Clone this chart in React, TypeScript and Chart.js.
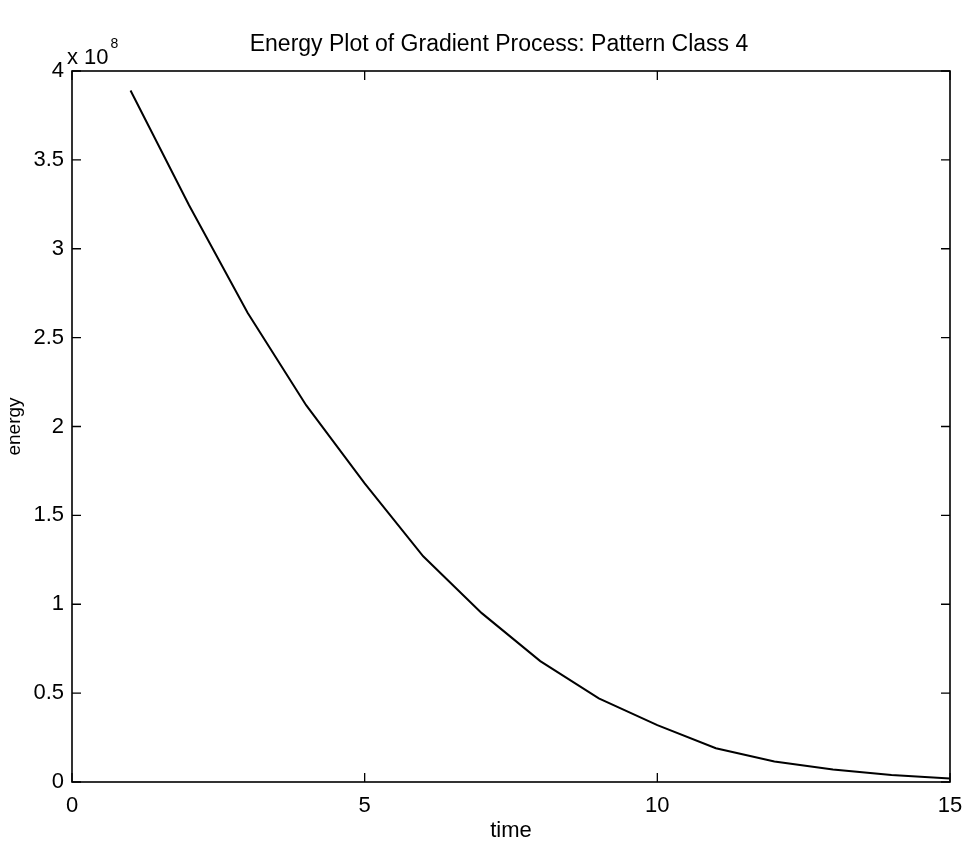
import React, { useEffect, useRef } from "react";
import { Chart, registerables } from "chart.js";

Chart.register(...registerables);

const TITLE = "Energy Plot of Gradient Process: Pattern Class 4";
const X_LABEL = "time";
const Y_LABEL = "energy";
const EXPONENT = 8;
const SCALE = 1e8;

const times = [1, 2, 3, 4, 5, 6, 7, 8, 9, 10, 11, 12, 13, 14, 15];
const energy = [
  3.89e8, 3.245e8, 2.64e8, 2.12e8, 1.68e8, 1.27e8, 0.95e8, 0.68e8, 0.47e8,
  0.32e8, 0.19e8, 0.115e8, 0.07e8, 0.04e8, 0.02e8,
];

const X_MIN = 0;
const X_MAX = 15;
const X_STEP = 5;
const Y_MIN = 0;
const Y_MAX = 4e8;
const Y_STEP = 0.5e8;

const FONT = "'Liberation Sans', Arial, sans-serif";

const frame = {
  id: "matlabFrame",
  afterDraw(chart: any) {
    const { ctx, chartArea: a, scales } = chart;
    const xs = scales.x;
    const ys = scales.y;
    ctx.save();
    ctx.strokeStyle = "#000";
    ctx.lineWidth = 1.6;
    ctx.strokeRect(a.left, a.top, a.right - a.left, a.bottom - a.top);
    const TL = 9;
    ctx.lineWidth = 1.3;
    ctx.beginPath();
    xs.ticks.forEach((t: any) => {
      const px = xs.getPixelForValue(t.value);
      ctx.moveTo(px, a.bottom);
      ctx.lineTo(px, a.bottom - TL);
      ctx.moveTo(px, a.top);
      ctx.lineTo(px, a.top + TL);
    });
    ys.ticks.forEach((t: any) => {
      const py = ys.getPixelForValue(t.value);
      ctx.moveTo(a.left, py);
      ctx.lineTo(a.left + TL, py);
      ctx.moveTo(a.right, py);
      ctx.lineTo(a.right - TL, py);
    });
    ctx.stroke();

    ctx.fillStyle = "#000";
    ctx.textBaseline = "alphabetic";
    ctx.textAlign = "center";
    ctx.font = `23px ${FONT}`;
    ctx.fillText(TITLE, (a.left + a.right) / 2 - 12, a.top - 20);

    ctx.textAlign = "left";
    ctx.font = `22px ${FONT}`;
    const base = "x 10";
    ctx.fillText(base, a.left - 5, a.top - 7);
    const w = ctx.measureText(base).width;
    ctx.font = `14px ${FONT}`;
    ctx.fillText(String(EXPONENT), a.left - 5 + w + 2, a.top - 23);
    ctx.restore();
  },
};

export default function App() {
  const ref = useRef<HTMLCanvasElement | null>(null);

  useEffect(() => {
    if (!ref.current) return;
    const chart = new Chart(ref.current, {
      type: "line",
      data: {
        datasets: [
          {
            data: times.map((t, i) => ({ x: t, y: energy[i] })),
            borderColor: "#000",
            borderWidth: 2,
            pointRadius: 0,
            fill: false,
            tension: 0,
          },
        ],
      },
      options: {
        responsive: false,
        animation: false,
        layout: { padding: { top: 71, right: 24, left: 0, bottom: 0 } },
        plugins: {
          legend: { display: false },
          tooltip: { enabled: false },
          title: { display: false },
        },
        scales: {
          x: {
            type: "linear",
            min: X_MIN,
            max: X_MAX,
            grid: { display: false, drawTicks: false },
            border: { display: false },
            ticks: {
              stepSize: X_STEP,
              padding: 11,
              color: "#000",
              font: { family: FONT, size: 22 },
              maxRotation: 0,
            },
            title: {
              display: true,
              text: X_LABEL,
              color: "#000",
              font: { family: FONT, size: 22 },
              padding: { top: 0, bottom: 1 },
            },
            afterFit: (s: any) => {
              s.height = 63;
            },
          },
          y: {
            type: "linear",
            min: Y_MIN,
            max: Y_MAX,
            grid: { display: false, drawTicks: false },
            border: { display: false },
            ticks: {
              stepSize: Y_STEP,
              padding: 8,
              color: "#000",
              font: { family: FONT, size: 22 },
              callback: (v: any) => String(Number(v) / SCALE),
            },
            title: {
              display: true,
              text: Y_LABEL,
              color: "#000",
              font: { family: FONT, size: 19 },
              padding: { top: 3, bottom: 0 },
            },
            afterFit: (s: any) => {
              s.width = 72;
            },
          },
        },
      },
      plugins: [frame],
    });
    return () => chart.destroy();
  }, []);

  return (
    <div style={{ position: "fixed", left: 0, top: 0, width: 974, height: 845, background: "#fff" }}>
      <canvas ref={ref} width={974} height={845} />
    </div>
  );
}
